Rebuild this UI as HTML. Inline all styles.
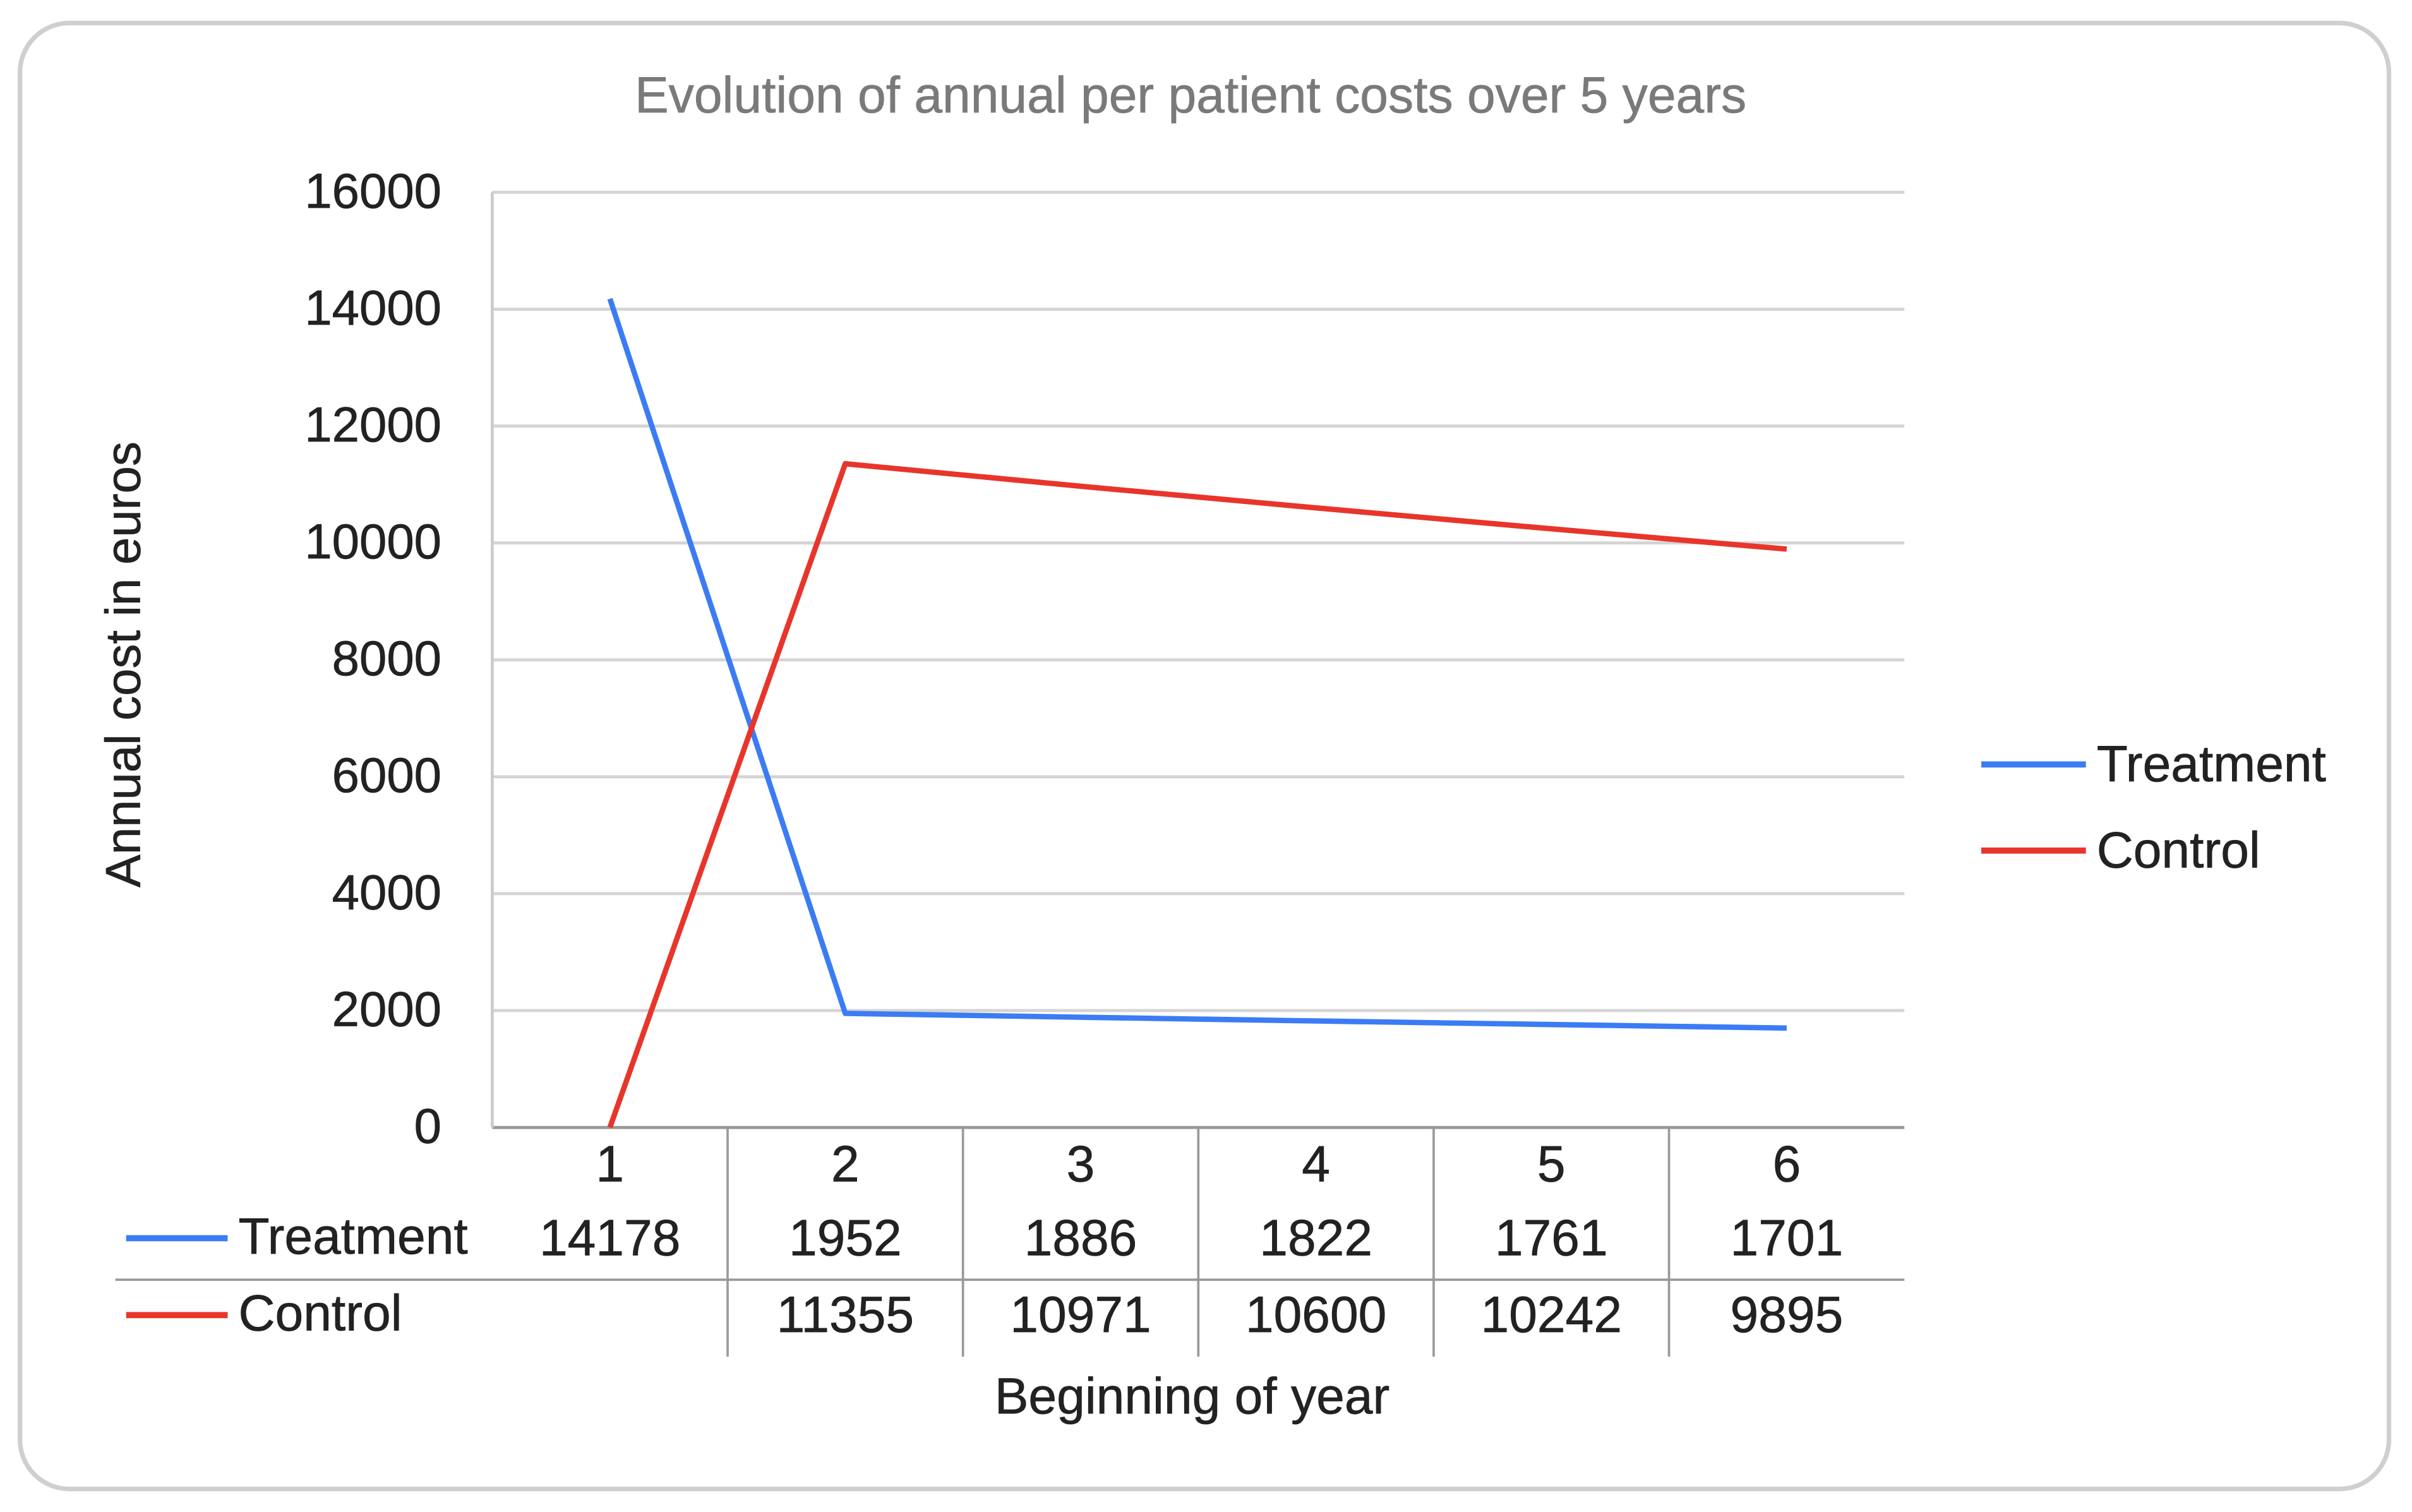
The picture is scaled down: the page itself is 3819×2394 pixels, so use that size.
<!DOCTYPE html>
<html><head><meta charset="utf-8"><style>
html,body{margin:0;padding:0;background:#fff;}
svg{display:block;font-family:"Liberation Sans",Arial,sans-serif;}
text{stroke:currentColor;stroke-width:0.3;}
</style></head><body>
<svg id="chart" width="3819" height="2394" viewBox="0 0 1568 983" preserveAspectRatio="none" color="#222">
<rect x="13" y="15" width="1540" height="953" rx="32" ry="32" fill="#fff" stroke="#cfcfcf" stroke-width="3"/>
<text x="774" y="73" text-anchor="middle" font-size="33" fill="#7a7a7a" color="#7a7a7a">Evolution of annual per patient costs over 5 years</text>
<text transform="translate(91,432) rotate(-90)" text-anchor="middle" font-size="32" fill="#222">Annual cost in euros</text>
<text x="775" y="919" text-anchor="middle" font-size="33" fill="#222">Beginning of year</text>
<g id="grid"></g><g id="table"></g><g id="series"></g><g id="legend"></g>
</svg>
<script>
const categories = ['1','2','3','4','5','6'];
const treatment = [14178,1952,1886,1822,1761,1701];
const control = [null,11355,10971,10600,10242,9895];
const yTicks = [0,2000,4000,6000,8000,10000,12000,14000,16000];
const NS='http://www.w3.org/2000/svg';
const L=320,R=1238,T=125,B=733,YMAX=16000;
const band=(R-L)/categories.length;
const x=i=>L+band*(i+0.5);
const y=v=>B-(v/YMAX)*(B-T);
function mk(tag,attrs,parent,text){const e=document.createElementNS(NS,tag);for(const k in attrs)e.setAttribute(k,attrs[k]);if(text!==undefined)e.textContent=text;document.getElementById(parent).appendChild(e);return e;}
yTicks.forEach(t=>{
  const g=mk('line',{x1:L,x2:R,y1:y(t),y2:y(t),stroke:t===0?'#999':'#d4d4d4','stroke-width':2},'grid');
  
  
  const lb=mk('text',{x:287,y:y(t)+10,'text-anchor':'end','font-size':32,fill:'#222'},'grid',String(t));
  
  
});
const ax=mk('line',{x1:L,x2:L,y1:T,y2:B,stroke:'#ccc','stroke-width':2},'grid');


for(let i=1;i<categories.length;i++){
  const v=mk('line',{x1:L+band*i,x2:L+band*i,y1:B,y2:882,stroke:'#999','stroke-width':1.5},'table');
  
  
}
const hl=mk('line',{x1:75,x2:R,y1:832,y2:832,stroke:'#999','stroke-width':1.5},'table');


const rows=[{name:'Treatment',data:treatment,color:'#3b7cf4',yy:804},{name:'Control',data:control,color:'#e8352b',yy:854}];
categories.forEach((c,i)=>{
  const t=mk('text',{x:x(i),y:768,'text-anchor':'middle','font-size':33,fill:'#222'},'table',c);
  
  
});
rows.forEach(r=>{
  const ln=mk('line',{x1:82,x2:148,y1:r.yy+1,y2:r.yy+1,stroke:r.color,'stroke-width':4},'table');
  
  
  const nm=mk('text',{x:155,y:r.yy+11,'font-size':33,fill:'#222'},'table',r.name);
  
  
  r.data.forEach((v,i)=>{if(v===null)return;
    const tv=mk('text',{x:x(i),y:r.yy+12,'text-anchor':'middle','font-size':33,fill:'#222'},'table',String(v));
    
    
  });
  const pts=r.data.map((v,i)=>x(i)+','+y(v===null?0:v)).join(' ');
  const pl=mk('polyline',{points:pts,fill:'none',stroke:r.color,'stroke-width':3.5,'stroke-linejoin':'round'},'series');
  
  
});
rows.forEach((r,k)=>{
  const yy=497+k*56;
  const ln=mk('line',{x1:1288,x2:1356,y1:yy,y2:yy,stroke:r.color,'stroke-width':4},'legend');
  
  
  const t=mk('text',{x:1363,y:yy+11,'font-size':33,fill:'#222'},'legend',r.name);
  
  
});
</script>
</body></html>
